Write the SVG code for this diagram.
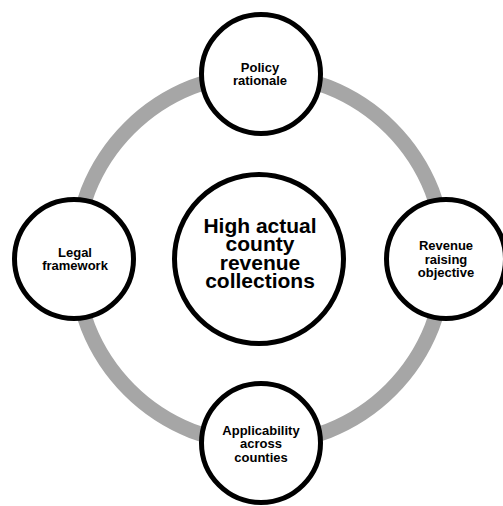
<svg xmlns="http://www.w3.org/2000/svg" width="503" height="506" viewBox="0 0 503 506">
  <style>
    .ring { fill: none; stroke: #a6a6a6; stroke-width: 15; }
    .node circle { fill: #ffffff; stroke: #000000; stroke-width: 5; }
    .node text { font-family: "Liberation Sans", Arial, sans-serif; font-weight: bold; fill: #000000; text-anchor: middle; }
    .small text { font-size: 13px; }
    .big text { font-size: 21px; }
  </style>
  <rect width="503" height="506" fill="#ffffff"/>

  <!-- connecting ring through the four outer nodes -->
  <g id="connectors">
    <circle class="ring" cx="260" cy="259" r="185"/>
  </g>

  <g id="node-center" class="node big">
    <circle cx="259" cy="259" r="84.5"/>
    <text x="260" y="233">High actual</text>
    <text x="260" y="251">county</text>
    <text x="260" y="270">revenue</text>
    <text x="260" y="288">collections</text>
  </g>

  <g id="node-policy" class="node small">
    <circle cx="261" cy="74" r="59.5"/>
    <text x="260" y="72">Policy</text>
    <text x="260" y="85">rationale</text>
  </g>

  <g id="node-revenue" class="node small">
    <circle cx="446" cy="259" r="59.5"/>
    <text x="446" y="250">Revenue</text>
    <text x="446" y="264">raising</text>
    <text x="446" y="277">objective</text>
  </g>

  <g id="node-legal" class="node small">
    <circle cx="74" cy="259" r="59.5"/>
    <text x="75" y="257">Legal</text>
    <text x="75" y="270">framework</text>
  </g>

  <g id="node-applicability" class="node small">
    <circle cx="261" cy="443" r="59.5"/>
    <text x="261" y="435">Applicability</text>
    <text x="261" y="448">across</text>
    <text x="261" y="462">counties</text>
  </g>
</svg>
